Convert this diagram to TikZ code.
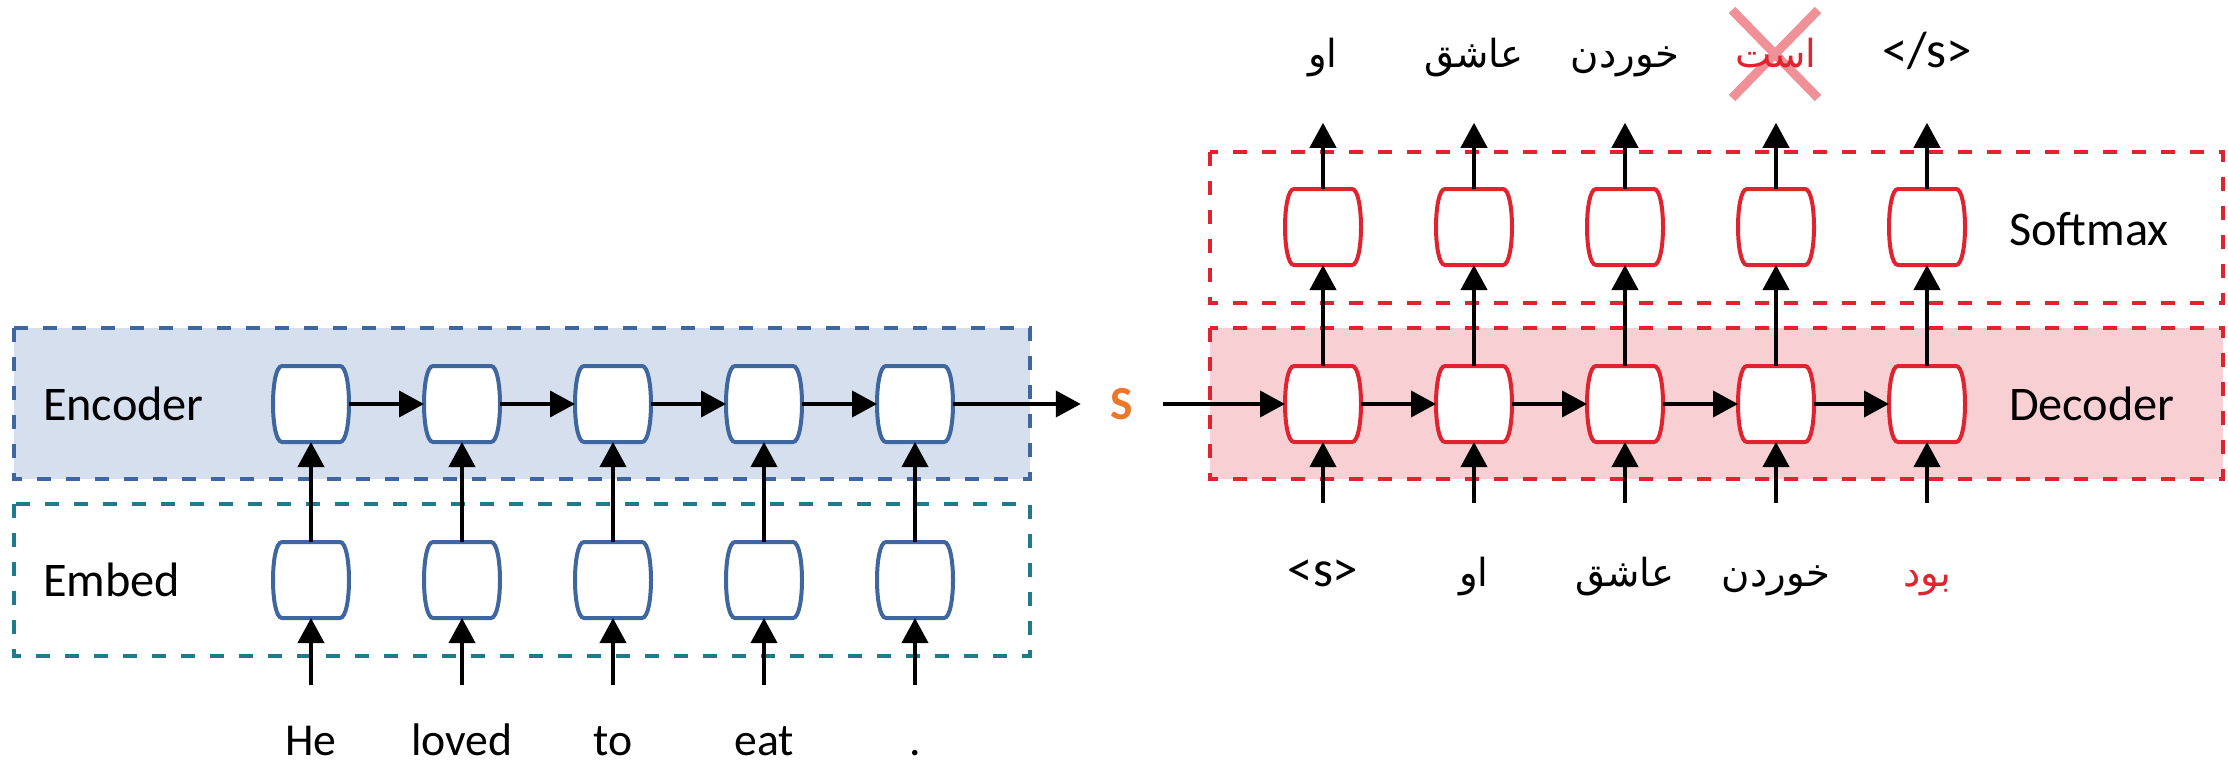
\documentclass[tikz,border=0pt]{standalone}
\usepackage{fontspec}
\setmainfont{Carlito}
\newfontfamily\farsi[Script=Arabic]{DejaVu Sans}
\TeXXeTstate=1
\usetikzlibrary{arrows.meta}
\definecolor{encblue}{RGB}{62,103,160}
\definecolor{encfill}{RGB}{213,223,238}
\definecolor{embteal}{RGB}{31,122,140}
\definecolor{decred}{RGB}{224,35,46}
\definecolor{decfill}{RGB}{248,208,212}
\definecolor{sorange}{RGB}{237,118,40}
\definecolor{crossred}{RGB}{239,145,150}
\newcommand{\fatext}[1]{\beginR #1\endR}

% rnn cell: flat top and bottom, sides bulging out
\makeatletter
\pgfdeclareshape{barrel}{
  \inheritsavedanchors[from=rectangle]
  \inheritanchorborder[from=rectangle]
  \inheritanchor[from=rectangle]{center}
  \inheritanchor[from=rectangle]{north}
  \inheritanchor[from=rectangle]{south}
  \inheritanchor[from=rectangle]{east}
  \inheritanchor[from=rectangle]{west}
  \backgroundpath{%
    \southwest \edef\barxa{\the\pgf@x}\edef\barya{\the\pgf@y}%
    \northeast \edef\barxb{\the\pgf@x}\edef\baryb{\the\pgf@y}%
    \pgfpathmoveto{\pgfpoint{\barxa+0.18cm}{\barya}}%
    \pgfpathlineto{\pgfpoint{\barxb-0.18cm}{\barya}}%
    \pgfpathcurveto{\pgfpoint{\barxb+0.06cm}{\barya}}{\pgfpoint{\barxb+0.06cm}{\baryb}}{\pgfpoint{\barxb-0.18cm}{\baryb}}%
    \pgfpathlineto{\pgfpoint{\barxa+0.18cm}{\baryb}}%
    \pgfpathcurveto{\pgfpoint{\barxa-0.06cm}{\baryb}}{\pgfpoint{\barxa-0.06cm}{\barya}}{\pgfpoint{\barxa+0.18cm}{\barya}}%
    \pgfpathclose
  }
}
\makeatother

\begin{document}
\begin{tikzpicture}[->,>={Triangle[length=0.5cm,width=0.52cm]},node distance=3.02cm,line width=0.08cm,
  font=\fontsize{26}{31}\selectfont,
  cell/.style={barrel,draw,fill=white,line width=0.08cm,minimum width=1.44cm,minimum height=1.44cm,inner sep=0pt},
  enc/.style={cell,draw=encblue},
  dec/.style={cell,draw=decred},
  box/.style={-,dash pattern=on 0.28cm off 0.3cm,line width=0.08cm},
  word/.style={text height=0.62cm,text depth=0.15cm,inner xsep=0pt},
  tag/.style={word,font=\fontsize{29}{34}\selectfont},
  fa/.style={word,font=\fontsize{22}{28}\farsi},
  layer/.style={anchor=west,inner xsep=0pt,font=\fontsize{27.5}{33}\selectfont}]

  \useasboundingbox (0,0) rectangle (44.56,-15.3);

  % dashed boxes
  \draw[box,draw=encblue,fill=encfill] (0.28,-6.56) rectangle (20.6,-9.58);
  \draw[box,draw=embteal]              (0.28,-10.08) rectangle (20.6,-13.12);
  \draw[box,draw=decred]               (24.2,-3.04) rectangle (44.46,-6.06);
  \draw[box,draw=decred,fill=decfill]  (24.2,-6.56) rectangle (44.46,-9.58);
  \draw[-,crossred,line width=0.18cm] (34.64,-0.2) -- (36.36,-1.96) (36.36,-0.2) -- (34.64,-1.96);

  \node[layer] (lenc) at (0.82,-8.08)  {Encoder};
  \node[layer] (lemb) at (0.82,-11.6)  {Embed};
  \node[layer] (lsof) at (40.14,-4.58) {Softmax};
  \node[layer] (ldec) at (40.14,-8.08) {Decoder};

  % encoder side
  \node[enc] (e1) at (6.22,-8.08) {};
  \node[enc] (e2) [right of=e1] {};
  \node[enc] (e3) [right of=e2] {};
  \node[enc] (e4) [right of=e3] {};
  \node[enc] (e5) [right of=e4] {};
  \node[enc] (m1) [below of=e1,node distance=3.52cm] {};
  \node[enc] (m2) [below of=e2,node distance=3.52cm] {};
  \node[enc] (m3) [below of=e3,node distance=3.52cm] {};
  \node[enc] (m4) [below of=e4,node distance=3.52cm] {};
  \node[enc] (m5) [below of=e5,node distance=3.52cm] {};
  \node[word,inner ysep=0.76cm] (w1) [below of=m1,node distance=3.28cm] {He};
  \node[word,inner ysep=0.76cm] (w2) [below of=m2,node distance=3.28cm] {loved};
  \node[word,inner ysep=0.76cm] (w3) [below of=m3,node distance=3.28cm] {to};
  \node[word,inner ysep=0.76cm] (w4) [below of=m4,node distance=3.28cm] {eat};
  \node[word,inner ysep=0.76cm] (w5) [below of=m5,node distance=3.28cm] {.};

  \node[font=\fontsize{27}{32}\selectfont\bfseries,text=sorange,inner xsep=0.56cm] (s) [right of=e5,node distance=4.14cm] {S};

  % decoder side
  \node[dec] (d1) [right of=s,node distance=4.02cm] {};
  \node[dec] (d2) [right of=d1] {};
  \node[dec] (d3) [right of=d2] {};
  \node[dec] (d4) [right of=d3] {};
  \node[dec] (d5) [right of=d4] {};
  \node[dec] (s1) [above of=d1,node distance=3.54cm] {};
  \node[dec] (s2) [above of=d2,node distance=3.54cm] {};
  \node[dec] (s3) [above of=d3,node distance=3.54cm] {};
  \node[dec] (s4) [above of=d4,node distance=3.54cm] {};
  \node[dec] (s5) [above of=d5,node distance=3.54cm] {};
  \node[tag,inner ysep=1.02cm] (i1) [below of=d1,node distance=3.42cm] {<s>};
  \node[fa,inner ysep=1.02cm]  (i2) [below of=d2,node distance=3.42cm] {\fatext{او}};
  \node[fa,inner ysep=1.02cm]  (i3) [below of=d3,node distance=3.42cm] {\fatext{عاشق}};
  \node[fa,inner ysep=1.02cm]  (i4) [below of=d4,node distance=3.42cm] {\fatext{خوردن}};
  \node[fa,inner ysep=1.02cm,text=decred] (i5) [below of=d5,node distance=3.42cm] {\fatext{بود}};
  \node[fa,inner ysep=0.91cm]  (o1) [above of=s1,node distance=3.42cm] {\fatext{او}};
  \node[fa,inner ysep=0.91cm]  (o2) [above of=s2,node distance=3.42cm] {\fatext{عاشق}};
  \node[fa,inner ysep=0.91cm]  (o3) [above of=s3,node distance=3.42cm] {\fatext{خوردن}};
  \node[fa,inner ysep=0.91cm,text=decred] (o4) [above of=s4,node distance=3.42cm] {\fatext{است}};
  \node[tag,inner ysep=0.91cm] (o5) [above of=s5,node distance=3.42cm] {</s>};

  \path (e1) edge (e2) (e2) edge (e3) (e3) edge (e4) (e4) edge (e5)
        (e5) edge (s) (s) edge (d1)
        (d1) edge (d2) (d2) edge (d3) (d3) edge (d4) (d4) edge (d5)
        (w1) edge (m1) (w2) edge (m2) (w3) edge (m3) (w4) edge (m4) (w5) edge (m5)
        (m1) edge (e1) (m2) edge (e2) (m3) edge (e3) (m4) edge (e4) (m5) edge (e5)
        (i1) edge (d1) (i2) edge (d2) (i3) edge (d3) (i4) edge (d4) (i5) edge (d5)
        (d1) edge (s1) (d2) edge (s2) (d3) edge (s3) (d4) edge (s4) (d5) edge (s5)
        (s1) edge (o1) (s2) edge (o2) (s3) edge (o3) (s4) edge (o4) (s5) edge (o5);
\end{tikzpicture}
\end{document}
